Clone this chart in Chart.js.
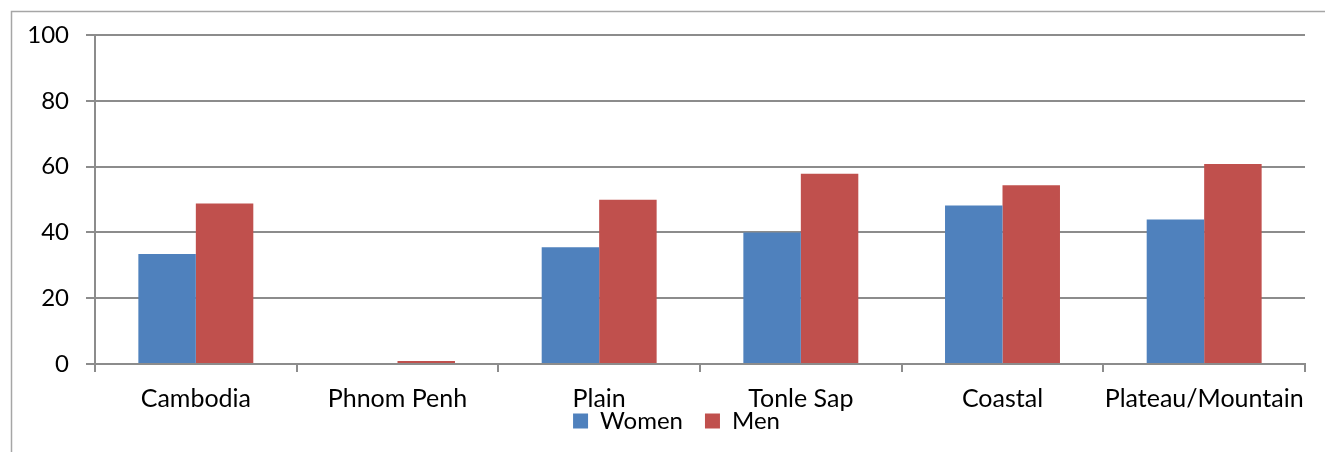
<!DOCTYPE html>
<html>
<head>
<meta charset="utf-8">
<script src="https://cdn.jsdelivr.net/npm/chart.js@4/dist/chart.umd.min.js"></script>
<style>
  html, body { margin: 0; padding: 0; background: #fff; }
  #wrap { position: relative; width: 1325px; height: 452px; }
</style>
</head>
<body>
<div id="wrap"><canvas id="c" width="1325" height="452"></canvas></div>
<script>
const categories = ['Cambodia', 'Phnom Penh', 'Plain', 'Tonle Sap', 'Coastal', 'Plateau/Mountain'];
const women = [33.4, 0, 35.5, 40.0, 48.2, 43.9];
const men = [48.8, 0.9, 49.9, 57.8, 54.3, 60.8];
const yTicks = [0, 20, 40, 60, 80, 100];

const FONT = 'Lato, "Open Sans", sans-serif';
const GRID = '#8c8c8c';

// Thin frame along the top and left of the chart box
const frame = {
  id: 'frame',
  beforeDraw(chart) {
    const ctx = chart.ctx;
    ctx.save();
    ctx.strokeStyle = '#a6a6a6';
    ctx.lineWidth = 1.5;
    ctx.beginPath();
    ctx.moveTo(11.5, chart.height);
    ctx.lineTo(11.5, 11.5);
    ctx.lineTo(chart.width, 11.5);
    ctx.stroke();
    ctx.restore();
  }
};

// Tuck the legend up close under the category labels
const legendNudge = {
  id: 'legendNudge',
  afterLayout(chart) {
    const lg = chart.legend;
    if (!lg) return;
    const dy = -27, dx = 12;
    lg.top += dy;
    lg.left += dx; lg.right += dx;
    lg.height = 60;
    lg.bottom = lg.top + lg.height;
  }
};

new Chart(document.getElementById('c'), {
  type: 'bar',
  data: {
    labels: categories,
    datasets: [
      { label: 'Women', data: women, backgroundColor: '#4f81bd', borderWidth: 0 },
      { label: 'Men', data: men, backgroundColor: '#c0504d', borderWidth: 0 }
    ]
  },
  options: {
    responsive: false,
    animation: false,
    layout: { padding: { left: 24, right: 20, top: 35, bottom: 0 } },
    datasets: { bar: { barPercentage: 1, categoryPercentage: 0.57 } },
    plugins: {
      legend: {
        position: 'bottom',
        maxHeight: 38,
        labels: {
          boxWidth: 15, boxHeight: 15, padding: 22,
          color: '#000', font: { family: FONT, size: 24 }
        }
      },
      tooltip: { enabled: false }
    },
    scales: {
      x: {
        offset: true,
        grid: { offset: true, drawOnChartArea: false, color: GRID, lineWidth: 2, tickLength: 8 },
        border: { color: GRID, width: 2 },
        ticks: { color: '#000', font: { family: FONT, size: 25 }, padding: 12, maxRotation: 0, autoSkip: false },
        afterFit(s) { s.height = 50; }
      },
      y: {
        min: 0, max: 100,
        afterBuildTicks(s) { s.ticks = yTicks.map(v => ({ value: v })); },
        grid: { color: GRID, lineWidth: 2, tickLength: 9 },
        border: { color: GRID, width: 2 },
        ticks: { color: '#000', font: { family: FONT, size: 24 }, padding: 17 },
        afterFit(s) { s.width = 71; }
      }
    }
  },
  plugins: [frame, legendNudge]
});
</script>
</body>
</html>
